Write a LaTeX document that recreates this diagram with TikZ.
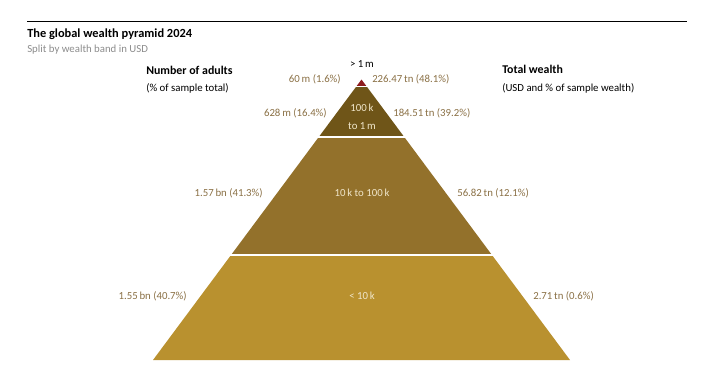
\documentclass[tikz,border=0pt]{standalone}
\usepackage{fontspec}
\setmainfont{Carlito}
\definecolor{wpRed}{HTML}{8E1B1E}
\definecolor{wpDark}{HTML}{6F5518}
\definecolor{wpMid}{HTML}{93712B}
\definecolor{wpLight}{HTML}{B9912F}
\definecolor{wpLabel}{HTML}{8A7045}
\definecolor{wpInner}{HTML}{F0E6CA}
\definecolor{wpGrey}{HTML}{8C8C8C}
\tikzset{
	lbl/.style={font=\fontsize{8.1}{10}\selectfont, text=wpLabel, inner sep=0pt},
	inner/.style={font=\fontsize{8.1}{10}\selectfont, text=wpInner, inner sep=0pt},
	head/.style={font=\bfseries\fontsize{8.9}{11}\selectfont, inner sep=0pt, anchor=west},
	sub/.style={font=\fontsize{8.1}{10}\selectfont, inner sep=0pt, anchor=west}
}
\begin{document}
\begin{tikzpicture}[x=0.75pt,y=-0.75pt]
	\useasboundingbox (0,0) rectangle (709,387);
	% Title block
	\draw[line width=0.9pt] (27,21.7) -- (687,21.7);
	\path (27,34) node [head, font=\bfseries\fontsize{9.3}{11}\selectfont] (title) {The global wealth pyramid 2024};
	\path (27,50) node [sub, text=wpGrey] (subtitle) {Split by wealth band in USD};
	% Pyramid bands, apex (361.5,79.5), base half width 208.5 at y=360
	\foreach \ya/\yb/\col in {79.5/86.5/wpRed, 86.5/137.3/wpDark, 137.3/255.3/wpMid, 255.3/360/wpLight}{
		\pgfmathsetmacro{\ha}{0.7433*(\ya-79.5)}
		\pgfmathsetmacro{\hb}{0.7433*(\yb-79.5)}
		\fill[\col] ({361.5-\ha},\ya) -- ({361.5+\ha},\ya) -- ({361.5+\hb},\yb) -- ({361.5-\hb},\yb) -- cycle;
	}
	\foreach \y in {86.5,137.3,255.3}{
		\draw[white, line width=1.3pt] (150,\y) -- (573,\y);
	}
	% Column headers
	\path (146,70) node [head] (adults) {Number of adults};
	\path (146,88) node [sub] (adultsub) {(\% of sample total)};
	\path (502,69) node [head] (wealth) {Total wealth};
	\path (502,88) node [sub] (wealthsub) {(USD and \% of sample wealth)};
	% Band names
	\path (362,64) node [lbl, text=black] (top) {> 1\,m};
	\path (362,108) node [inner] (bandB) {100\,k};
	\path (362,126) node [inner] (bandBb) {to 1\,m};
	\path (362,193) node [inner] (bandC) {10\,k to 100\,k};
	\path (362,296) node [inner] (bandD) {< 10\,k};
	% Adults
	\path (341,79.5) node [lbl, anchor=east] (adA) {60\,m (1.6\%)};
	\path (327,113) node [lbl, anchor=east] (adB) {628\,m (16.4\%)};
	\path (263,193) node [lbl, anchor=east] (adC) {1.57\,bn (41.3\%)};
	\path (187,296) node [lbl, anchor=east] (adD) {1.55\,bn (40.7\%)};
	% Wealth
	\path (372,79.5) node [lbl, anchor=west] (wA) {226.47\,tn (48.1\%)};
	\path (393,113) node [lbl, anchor=west] (wB) {184.51\,tn (39.2\%)};
	\path (457,193) node [lbl, anchor=west] (wC) {56.82\,tn (12.1\%)};
	\path (533,296) node [lbl, anchor=west] (wD) {2.71\,tn (0.6\%)};
\end{tikzpicture}
\end{document}
